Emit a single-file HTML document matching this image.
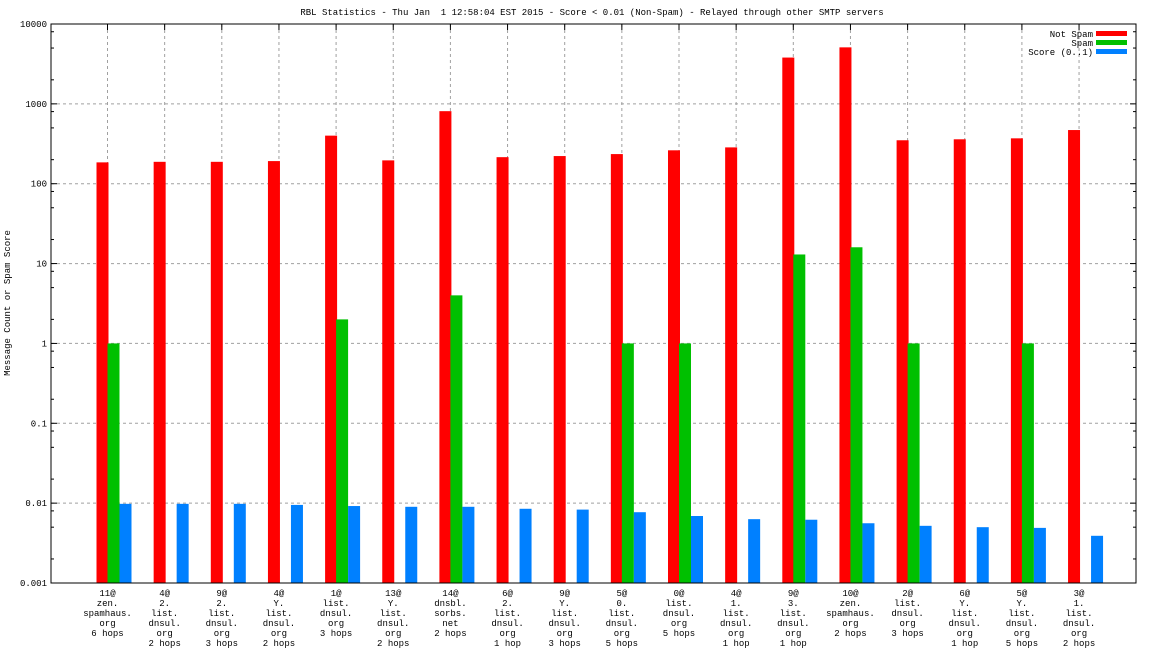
<!DOCTYPE html>
<html><head><meta charset="utf-8"><style>
body{margin:0;background:#fff}
svg text{font-family:"Liberation Mono","DejaVu Sans Mono",monospace;font-size:9px;fill:#000}
</style></head><body>
<svg id="c" width="1152" height="648"></svg>
<script>
const categories=[["11@","zen.","spamhaus.","org","6 hops"],["4@","2.","list.","dnsul.","org","2 hops"],["9@","2.","list.","dnsul.","org","3 hops"],["4@","Y.","list.","dnsul.","org","2 hops"],["1@","list.","dnsul.","org","3 hops"],["13@","Y.","list.","dnsul.","org","2 hops"],["14@","dnsbl.","sorbs.","net","2 hops"],["6@","2.","list.","dnsul.","org","1 hop"],["9@","Y.","list.","dnsul.","org","3 hops"],["5@","0.","list.","dnsul.","org","5 hops"],["0@","list.","dnsul.","org","5 hops"],["4@","1.","list.","dnsul.","org","1 hop"],["9@","3.","list.","dnsul.","org","1 hop"],["10@","zen.","spamhaus.","org","2 hops"],["2@","list.","dnsul.","org","3 hops"],["6@","Y.","list.","dnsul.","org","1 hop"],["5@","Y.","list.","dnsul.","org","5 hops"],["3@","1.","list.","dnsul.","org","2 hops"]];
const notSpam=[185,188,188,192,400,196,810,215,222,235,262,285,3800,5100,350,360,370,470];
const spam=[1,0,0,0,2,0,4,0,0,1,1,0,13,16,1,0,1,0];
const score=[0.0098,0.0098,0.0098,0.0095,0.0092,0.009,0.009,0.0085,0.0083,0.0077,0.0069,0.0063,0.0062,0.0056,0.0052,0.005,0.0049,0.0039];
const yTicks=[0.001,0.01,0.1,1,10,100,1000,10000];
const yTickLabels=["0.001","0.01","0.1","1","10","100","1000","10000"];
const L=51,R=1136,T=24,B=583;
const ns="http://www.w3.org/2000/svg",svg=document.getElementById('c');
function y(v){return B-(Math.log10(v)+3)*(B-T)/7;}
function x(i){return 107.5+57.15*i;}
function el(t,a,p){const e=document.createElementNS(ns,t);for(const k in a)e.setAttribute(k,a[k]);(p||svg).appendChild(e);return e;}
yTicks.forEach((v,k)=>{
 if(k>0&&k<yTicks.length-1){const g=el('line',{x1:L,x2:R,y1:y(v),y2:y(v),stroke:'#a0a0a0','stroke-dasharray':'3,3'});
 
 }
 const t=el('text',{x:L-4,y:y(v)+3,'text-anchor':'end'});t.textContent=yTickLabels[k];
 
 
 el('line',{x1:L,x2:L+6,y1:y(v),y2:y(v),stroke:'#000'});el('line',{x1:R,x2:R-6,y1:y(v),y2:y(v),stroke:'#000'});
 if(k<yTicks.length-1)[2,5,8].forEach(m=>{const yy=y(v*m);el('line',{x1:L,x2:L+3,y1:yy,y2:yy,stroke:'#000'});el('line',{x1:R,x2:R-3,y1:yy,y2:yy,stroke:'#000'});});
});
categories.forEach((c,i)=>{
 const g=el('line',{x1:x(i),x2:x(i),y1:T,y2:B,stroke:'#a0a0a0','stroke-dasharray':'3,3'});
 
 
 el('line',{x1:x(i),x2:x(i),y1:T,y2:T+6,stroke:'#000'});
 const t=el('text',{x:x(i),y:B+13,'text-anchor':'middle'});
 
 
 c.forEach((s,j)=>{const ts=el('tspan',{x:x(i),dy:j?10:0},t);ts.textContent=s;});
});
function bar(v,x0,col,name){if(!v)return;const r=el('rect',{x:x0,y:y(v),width:12,height:B-y(v),fill:col});
 
 }
categories.forEach((c,i)=>{bar(notSpam[i],x(i)-11,'#ff0000','bar-not-spam');bar(spam[i],x(i),'#00c000','bar-spam');bar(score[i],x(i)+12,'#0080ff','bar-score');});
el('rect',{x:L,y:T,width:R-L,height:B-T,fill:'none',stroke:'#000'});
const ti=el('text',{x:592,y:15,'text-anchor':'middle'});ti.textContent='RBL Statistics - Thu Jan  1 12:58:04 EST 2015 - Score < 0.01 (Non-Spam) - Relayed through other SMTP servers';
ti.style.whiteSpace='pre';
const yl=el('text',{x:0,y:0,'text-anchor':'middle',transform:'translate(10,303) rotate(-90)'});yl.textContent='Message Count or Spam Score';

[["Not Spam","#ff0000"],["Spam","#00c000"],["Score (0..1)","#0080ff"]].forEach((d,k)=>{
 const t=el('text',{x:1093,y:37+k*9,'text-anchor':'end'});t.textContent=d[0];
 
 el('rect',{x:1096,y:31+k*9,width:31,height:5,fill:d[1]});
});
</script>
</body></html>
